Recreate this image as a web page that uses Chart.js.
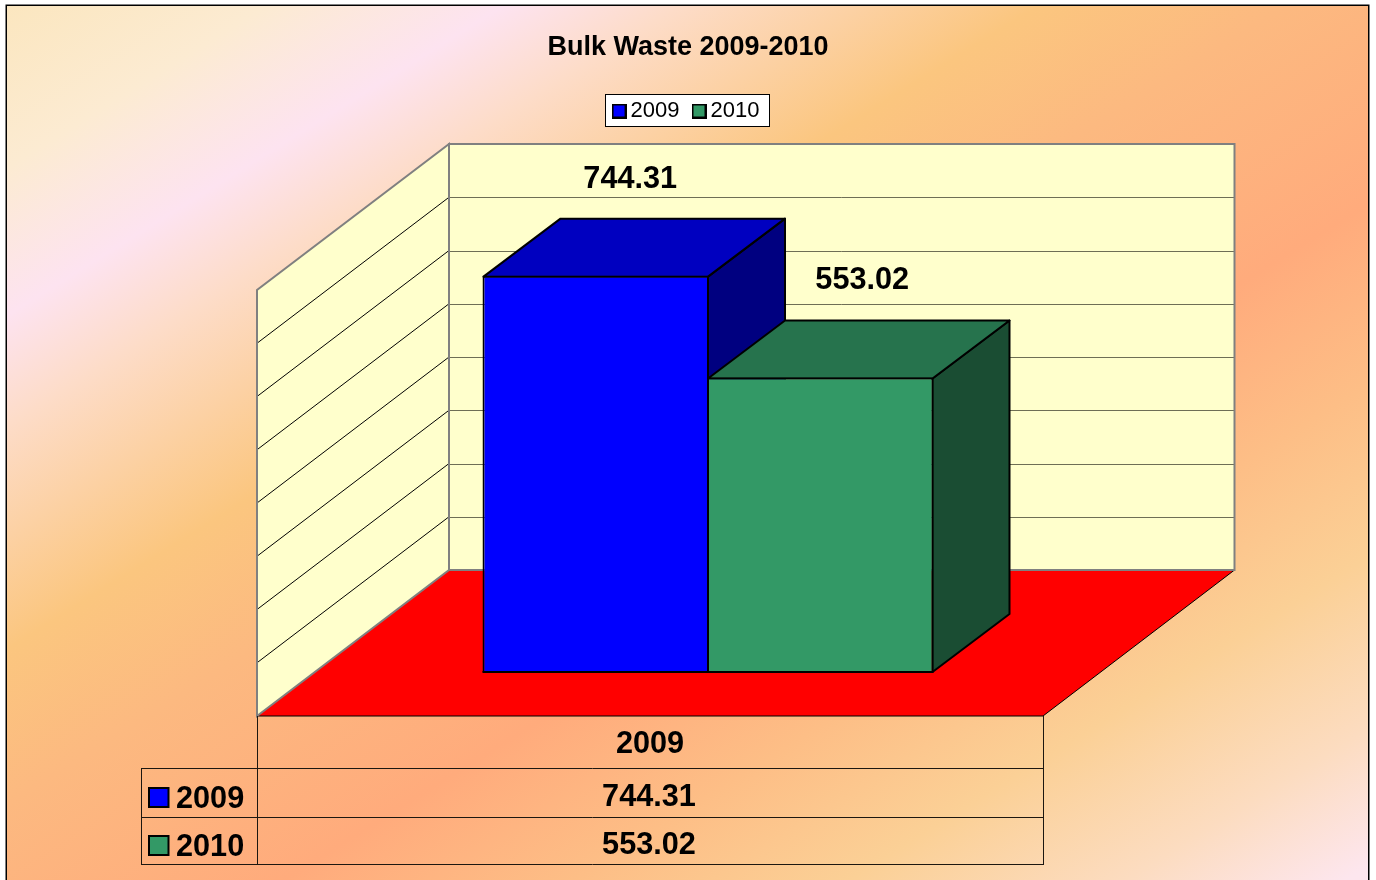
<!DOCTYPE html>
<html>
<head>
<meta charset="utf-8">
<style>html,body{margin:0;padding:0;background:#fff}canvas{display:block}</style>
<script src="https://cdn.jsdelivr.net/npm/chart.js@4"></script>
</head>
<body>
<div style="position:relative;width:1376px;height:880px"><canvas id="c" width="1376" height="880"></canvas></div>
<script>
const titleText = 'Bulk Waste 2009-2010';
const categories = ['2009'];
const seriesNames = ['2009', '2010'];
const values2009 = [744.31];
const values2010 = [553.02];
const frontColors = ['#0000FF', '#339966'];
const topColors = ['#0000C0', '#26734D'];
const sideColors = ['#000080', '#1A4D33'];
const labelTexts = ['744.31', '553.02'];
const yTicks = [0, 100, 200, 300, 400, 500, 600, 700, 800];

const FONT = '"Liberation Sans", Arial, sans-serif';
const DEPTH = {x: 77, y: -58};        // depth of a bar
const BACK = {x: 134, y: -102};       // bar plane -> back wall
const FRONT = {x: -58, y: 44};        // bar plane -> floor front edge

function swatch(color) {
  const s = document.createElement('canvas');
  s.width = 15; s.height = 15;
  const g = s.getContext('2d');
  g.fillStyle = color; g.fillRect(0, 0, 15, 15);
  g.strokeStyle = '#000'; g.lineWidth = 2; g.strokeRect(1, 1, 13, 13);
  return s;
}
function poly(ctx, pts, fill, stroke, lw) {
  ctx.beginPath();
  pts.forEach((p, i) => i ? ctx.lineTo(p[0], p[1]) : ctx.moveTo(p[0], p[1]));
  ctx.closePath();
  if (fill) { ctx.fillStyle = fill; ctx.fill(); }
  if (stroke) { ctx.strokeStyle = stroke; ctx.lineWidth = lw; ctx.stroke(); }
}
function line(ctx, x1, y1, x2, y2, color, lw) {
  ctx.beginPath(); ctx.moveTo(x1, y1); ctx.lineTo(x2, y2);
  ctx.strokeStyle = color; ctx.lineWidth = lw; ctx.stroke();
}

const scene3d = {
  id: 'scene3d',
  beforeLayout(chart) {
    const lg = chart.legend;
    if (lg && !lg._patched) {
      const fit = lg.fit;
      lg.fit = function () { fit.call(this); this.height = 165; };
      lg._patched = true;
    }
  },
  afterLayout(chart) {
    chart.legend.left += 1; chart.legend.right += 1;
  },
  beforeDraw(chart) {
    const ctx = chart.ctx, a = chart.chartArea, ys = chart.scales.y;
    ctx.save();
    ctx.fillStyle = '#fff'; ctx.fillRect(0, 0, 1376, 880);
    const g = ctx.createLinearGradient(0, 0, 772, 1238);
    [[0, '#FBE6BE'], [0.1, '#FCEBD2'], [0.186, '#FDE3F0'], [0.25, '#FDDCC8'], [0.38, '#FBC67F'],
     [0.47, '#FCB980'], [0.615, '#FFAB7C'], [0.72, '#FDBE86'], [0.82, '#FBD096'], [0.92, '#FCDCC0'], [1, '#FDE6EE']]
      .forEach(s => g.addColorStop(s[0], s[1]));
    ctx.fillStyle = g;
    ctx.fillRect(6, 5, 1363, 875);
    ctx.lineWidth = 1.5;
    ctx.strokeStyle = '#000';
    ctx.beginPath();
    ctx.moveTo(6.25, 880); ctx.lineTo(6.25, 5.25); ctx.lineTo(1368.75, 5.25); ctx.lineTo(1368.75, 880);
    ctx.stroke();

    const bl = a.left + BACK.x, br = a.right + BACK.x - 0.5, bt = a.top + BACK.y, bb = a.bottom + BACK.y;
    const fl = a.left + FRONT.x, fr = a.right + FRONT.x, fb = a.bottom + FRONT.y, ft = a.top + FRONT.y;
    // back wall and left wall
    poly(ctx, [[bl, bt], [br, bt], [br, bb], [bl, bb]], '#FFFFCC');
    poly(ctx, [[bl, bt], [bl, bb], [fl, fb], [fl, ft]], '#FFFFCC');
    // grid lines
    yTicks.slice(1, -1).forEach(v => {
      const y = ys.getPixelForValue(v);
      line(ctx, bl, Math.round(y + BACK.y) + 0.5, br, Math.round(y + BACK.y) + 0.5, '#6E6E55', 1);
      line(ctx, bl, y + BACK.y, fl, y + FRONT.y, '#000', 1);
    });
    // floor
    poly(ctx, [[bl, bb], [br, bb], [fr, fb], [fl, fb]], '#FF0000');
    line(ctx, br, bb, fr, fb, '#000', 1);
    line(ctx, fl, fb, fr, fb, '#000', 1);
    // wall outline
    poly(ctx, [[bl, bt], [br, bt], [br, bb], [bl, bb]], null, '#808080', 2);
    poly(ctx, [[bl, bt], [bl, bb], [fl, fb], [fl, ft]], null, '#808080', 2);
    // legend background
    ctx.fillStyle = '#fff'; ctx.fillRect(605.5, 94.5, 164, 32);
    ctx.strokeStyle = '#000'; ctx.lineWidth = 1; ctx.strokeRect(605.5, 94.5, 164, 32);
    ctx.restore();
  },
  beforeDatasetsDraw(chart) {
    const ctx = chart.ctx;
    ctx.save();
    ctx.lineJoin = 'round';
    [0, 1].forEach(i => {
      const b = chart.getDatasetMeta(i).data[0];
      const l = b.x - b.width / 2 + 1, r = b.x + b.width / 2 - 1, t = b.y + 1, bt = b.base;
      poly(ctx, [[r, t], [r + DEPTH.x, t + DEPTH.y], [r + DEPTH.x, bt + DEPTH.y], [r, bt]], sideColors[i], '#000', 2);
      poly(ctx, [[l, t], [l + DEPTH.x, t + DEPTH.y], [r + DEPTH.x, t + DEPTH.y], [r, t]], topColors[i], '#000', 2);
    });
    ctx.restore();
  },
  afterDatasetsDraw(chart) {
    const ctx = chart.ctx, a = chart.chartArea;
    ctx.save();
    // bottom edge of the bar fronts
    [0, 1].forEach(i => {
      const b = chart.getDatasetMeta(i).data[0];
      line(ctx, b.x - b.width / 2, b.base, b.x + b.width / 2, b.base, '#000', 2);
    });
    const font = 'bold 30.67px ' + FONT;
    ctx.font = font; ctx.fillStyle = '#000'; ctx.textAlign = 'center'; ctx.textBaseline = 'middle';
    const shift = [{x: 34.5, y: -96}, {x: 42, y: -97}];
    [0, 1].forEach(i => {
      const b = chart.getDatasetMeta(i).data[0];
      ctx.fillText(labelTexts[i], b.x + shift[i].x, b.y + shift[i].y);
    });
    // data table
    const tl = a.left + FRONT.x, tr = a.right + FRONT.x, tt = a.bottom + FRONT.y;
    const rows = [768.5, 817.5, 864.5], keyL = 141;
    const c = '#1C1710';
    line(ctx, tl + 0.5, tt, tl + 0.5, 865, c, 1);
    line(ctx, tr + 0.5, tt, tr + 0.5, 865, c, 1);
    line(ctx, keyL + 0.5, rows[0], keyL + 0.5, 865, c, 1);
    rows.forEach(y => line(ctx, keyL, y, tr + 1, y, c, 1));
    ctx.fillStyle = '#000';
    ctx.fillText(categories[0], 650, 745);
    ctx.fillText(labelTexts[0], 649, 798);
    ctx.fillText(labelTexts[1], 649, 846);
    ctx.textAlign = 'left';
    ctx.fillText(seriesNames[0], 176, 800);
    ctx.fillText(seriesNames[1], 176, 848);
    [788, 836].forEach((y, i) => {
      ctx.fillStyle = frontColors[i]; ctx.fillRect(149, y, 19.5, 19);
      ctx.strokeStyle = '#000'; ctx.lineWidth = 2; ctx.strokeRect(149, y, 19.5, 19);
    });
    ctx.restore();
  }
};

new Chart(document.getElementById('c'), {
  type: 'bar',
  data: {
    labels: categories,
    datasets: [
      {label: seriesNames[0], data: values2009, backgroundColor: frontColors[0]},
      {label: seriesNames[1], data: values2010, backgroundColor: frontColors[1]}
    ]
  },
  plugins: [scene3d],
  options: {
    responsive: false,
    animation: false,
    layout: {padding: {left: 275, right: 275, top: 0, bottom: 208}},
    datasets: {bar: {barPercentage: 226.5 / 224.5, categoryPercentage: 449 / 786, borderColor: '#000', borderWidth: 2, borderSkipped: 'bottom'}},
    scales: {
      x: {display: false},
      y: {
        min: 0, max: 800,
        ticks: {display: false, stepSize: 100},
        grid: {display: false},
        border: {display: false},
        afterFit(s) { s.width = 40; }
      }
    },
    plugins: {
      tooltip: {enabled: false},
      title: {
        display: true, text: titleText, color: '#000',
        font: {family: FONT, size: 27, weight: 'bold', lineHeight: 1.2},
        padding: {top: 31, bottom: 17.6}
      },
      legend: {
        display: true, position: 'top', onClick: null,
        labels: {
          color: '#000', padding: 19, usePointStyle: true, pointStyleWidth: 1,
          font: {family: FONT, size: 22},
          generateLabels() {
            return seriesNames.map((n, i) => ({text: n, pointStyle: swatch(frontColors[i]), datasetIndex: i, fontColor: '#000'}));
          }
        }
      }
    }
  }
});
</script>
</body>
</html>
